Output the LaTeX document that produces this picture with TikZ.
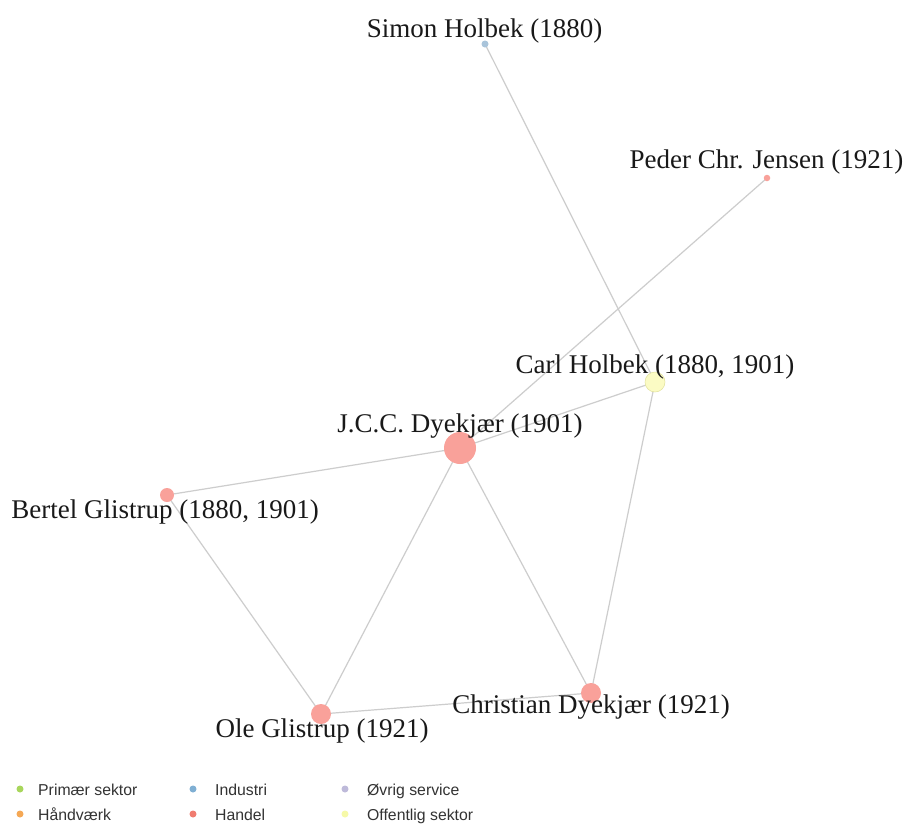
\documentclass[tikz,border=0pt]{standalone}
\usepackage{fontspec}
\setmainfont{Liberation Serif}
\newfontfamily\legfont{Liberation Sans}
\definecolor{edgec}{HTML}{CDCDCD}
\definecolor{handelc}{HTML}{F9A19A}
\definecolor{industric}{HTML}{A9C4DA}
\definecolor{offc}{HTML}{FBFBC4}
\definecolor{lgreen}{HTML}{A8D65C}
\definecolor{lorange}{HTML}{F5A855}
\definecolor{lblue}{HTML}{7FAFD3}
\definecolor{lred}{HTML}{F07C70}
\definecolor{lpurple}{HTML}{BEBADA}
\definecolor{lyellow}{HTML}{F6F9A8}
\tikzset{
  vert/.style={circle, inner sep=0pt, minimum size=#1},
  lab/.style={font=\fontsize{27}{30}\selectfont, text=black!90, anchor=base, inner sep=0pt},
  edge/.style={draw=edgec, line width=1.2pt},
  legdot/.style={circle, inner sep=0pt, minimum size=7pt},
  legtext/.style={font=\legfont\fontsize{15.8}{17}\selectfont, text=black!80, anchor=base west, inner sep=0pt},
}
\begin{document}
\begin{tikzpicture}[x=1pt,y=-1pt]
\useasboundingbox (0,0) rectangle (906,823);
\fill[white] (0,0) rectangle (906,823);
% vertex positions
\coordinate (simon) at (485,44);
\coordinate (peder) at (767,178);
\coordinate (carl) at (655,382);
\coordinate (jcc) at (460,448);
\coordinate (bertel) at (167,495);
\coordinate (ole) at (321,714);
\coordinate (chr) at (591,693);
% edges
\path[edge] (simon) -- (carl);
\path[edge] (peder) -- (jcc);
\path[edge] (carl) -- (jcc);
\path[edge] (carl) -- (chr);
\path[edge] (jcc) -- (bertel);
\path[edge] (jcc) -- (ole);
\path[edge] (jcc) -- (chr);
\path[edge] (bertel) -- (ole);
\path[edge] (ole) -- (chr);
% vertices
\node[vert=7pt, fill=industric] (vsimon) at (simon) {};
\node[vert=6.5pt, fill=handelc] (vpeder) at (peder) {};
\node[vert=20pt, fill=offc, draw=offc!80!olive, line width=0.5pt] (vcarl) at (carl) {};
\node[vert=32pt, fill=handelc] (vjcc) at (jcc) {};
\node[vert=14pt, fill=handelc] (vbertel) at (bertel) {};
\node[vert=20pt, fill=handelc] (vole) at (ole) {};
\node[vert=20pt, fill=handelc] (vchr) at (chr) {};
% labels
\node[lab] (lsimon) at (484.5,37) {Simon Holbek (1880)};
\node[lab] (lpeder) at (766.5,168) {Peder Chr. Jensen (1921)};
\node[lab] (lcarl) at (655,373) {Carl Holbek (1880, 1901)};
\node[lab] (ljcc) at (460,432) {J.C.C. Dyekjær (1901)};
\node[lab] (lbertel) at (165,518) {Bertel Glistrup (1880, 1901)};
\node[lab] (lole) at (322,737) {Ole Glistrup (1921)};
\node[lab] (lchr) at (591,713) {Christian Dyekjær (1921)};
% legend
\node[legdot, fill=lgreen] (d1) at (20,789) {};
\node[legtext] (t1) at (38,795) {Primær sektor};
\node[legdot, fill=lorange] (d2) at (20,814) {};
\node[legtext] (t2) at (38,820) {Håndværk};
\node[legdot, fill=lblue] (d3) at (193,789) {};
\node[legtext] (t3) at (215,795) {Industri};
\node[legdot, fill=lred] (d4) at (193,814) {};
\node[legtext] (t4) at (215,820) {Handel};
\node[legdot, fill=lpurple] (d5) at (345,789) {};
\node[legtext] (t5) at (367,795) {Øvrig service};
\node[legdot, fill=lyellow] (d6) at (345,814) {};
\node[legtext] (t6) at (367,820) {Offentlig sektor};
\end{tikzpicture}
\end{document}
